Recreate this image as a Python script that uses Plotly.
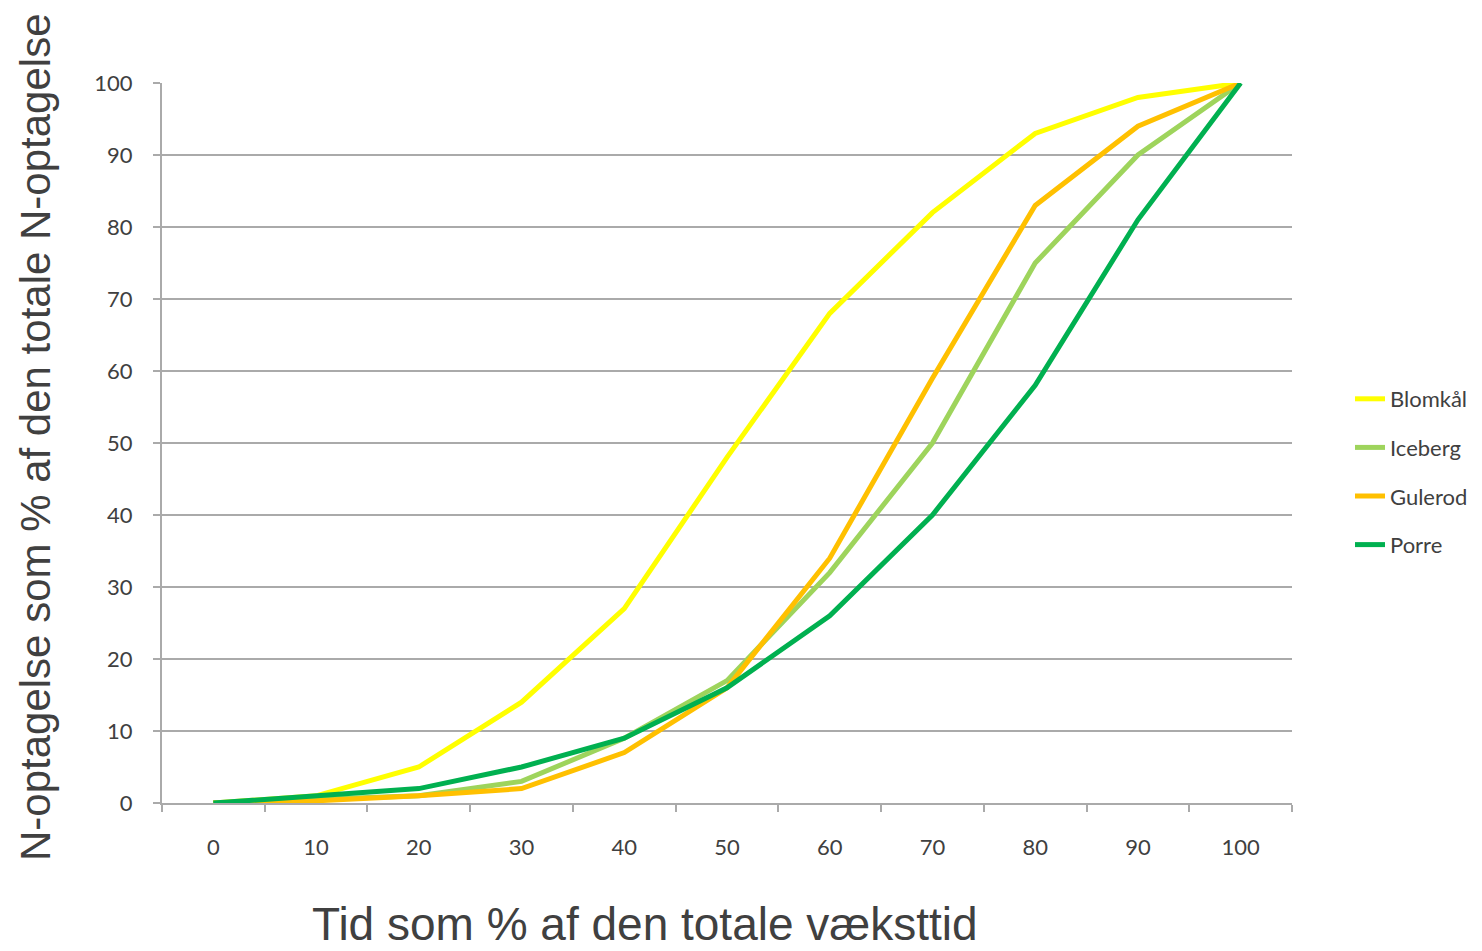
import plotly.graph_objects as go

categories = ["0", "10", "20", "30", "40", "50", "60", "70", "80", "90", "100"]
blomkaal = [0, 1, 5, 14, 27, 48, 68, 82, 93, 98, 100]
iceberg = [0, 0.5, 1, 3, 9, 17, 32, 50, 75, 90, 100]
gulerod = [0, 0.3, 1, 2, 7, 16, 34, 59, 83, 94, 100]
porre = [0, 1, 2, 5, 9, 16, 26, 40, 58, 81, 100]

series_names = ["Blomkål", "Iceberg", "Gulerod", "Porre"]
series_values = [blomkaal, iceberg, gulerod, porre]
series_colors = ["#FFFF00", "#9ED45C", "#FFC000", "#00B050"]

y_ticks = [0, 10, 20, 30, 40, 50, 60, 70, 80, 90, 100]

# page body has an 8px margin, so figure coords = screen coords - 8
W, H = 1474, 943
L, T, R, B = 154, 75, 1284, 795
PW, PH = R - L, B - T

grid_color = "#AAAAAA"
text_color = "#404040"
tick_font = dict(family="Lato, Carlito, Calibri, sans-serif", size=22, color=text_color)
title_font_family = "Liberation Sans, Arial, sans-serif"

fig = go.Figure()
for name, vals, col in zip(series_names, series_values, series_colors):
    fig.add_trace(go.Scatter(
        x=categories, y=vals, name=name, mode="lines",
        line=dict(color=col, width=5), legendgroup=name,
    ))

fig.update_layout(
    width=W, height=H,
    margin=dict(l=L, r=W - R, t=T, b=H - B, autoexpand=False),
    paper_bgcolor="white", plot_bgcolor="white",
    showlegend=True,
    legend=dict(
        x=(1342 - L) / PW, xanchor="left", y=(B - 464) / PH, yanchor="middle",
        font=dict(family="Lato, Carlito, Calibri, sans-serif", size=22, color=text_color),
        tracegroupgap=17, bgcolor="rgba(0,0,0,0)",
    ),
    xaxis=dict(
        type="category", categoryorder="array", categoryarray=categories,
        range=[-0.5, 10.5],
        showgrid=False, showline=True, linecolor=grid_color, linewidth=2,
        ticks="outside", tickson="boundaries", ticklen=7, tickcolor=grid_color, tickwidth=2,
        tickfont=tick_font, ticklabelstandoff=24,
        zeroline=False,
    ),
    yaxis=dict(
        range=[0, 100], tickvals=y_ticks, ticktext=[str(v) for v in y_ticks],
        showgrid=True, gridcolor=grid_color, gridwidth=2,
        showline=True, linecolor=grid_color, linewidth=2,
        ticks="outside", ticklen=7, tickcolor=grid_color, tickwidth=2,
        tickfont=tick_font, ticklabelstandoff=16,
        zeroline=False,
    ),
    annotations=[
        dict(text="N-optagelse som % af den totale N-optagelse", xref="paper", yref="paper",
             x=(27 - L) / PW, y=(B - 429) / PH, xanchor="center", yanchor="middle",
             textangle=-90, showarrow=False,
             font=dict(family=title_font_family, size=42, color=text_color)),
        dict(text="Tid som % af den totale væksttid", xref="paper", yref="paper",
             x=(637 - L) / PW, y=(B - 916) / PH, xanchor="center", yanchor="middle",
             showarrow=False,
             font=dict(family=title_font_family, size=46, color=text_color)),
    ],
)

fig.write_html("out.html")
